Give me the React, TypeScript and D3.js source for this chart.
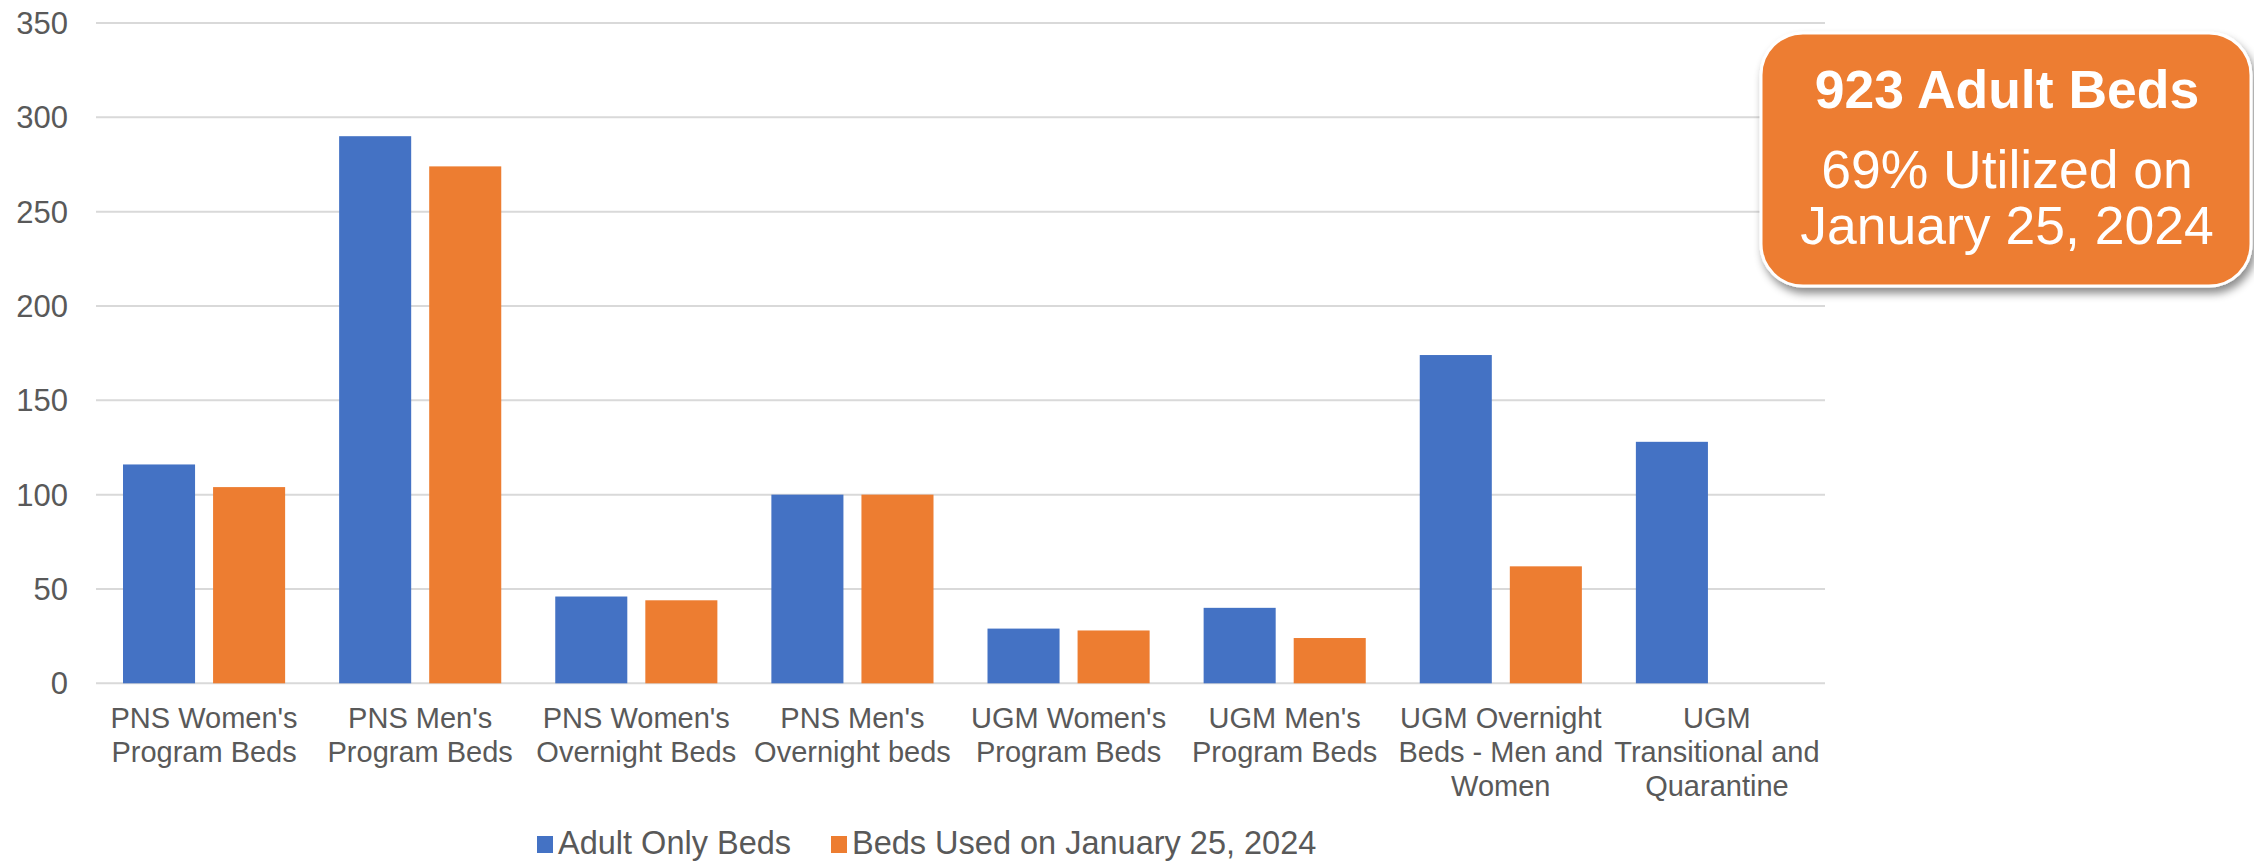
import React from "react";
import * as d3 from "d3";

const categories: string[][] = [
  ["PNS Women's", "Program Beds"],
  ["PNS Men's", "Program Beds"],
  ["PNS Women's", "Overnight Beds"],
  ["PNS Men's", "Overnight beds"],
  ["UGM Women's", "Program Beds"],
  ["UGM Men's", "Program Beds"],
  ["UGM Overnight", "Beds - Men and", "Women"],
  ["UGM", "Transitional and", "Quarantine"],
];
const adultOnlyBeds = [116, 290, 46, 100, 29, 40, 174, 128];
const bedsUsed = [104, 274, 44, 100, 28, 24, 62, 0];
const seriesNames = ["Adult Only Beds", "Beds Used on January 25, 2024"];
const seriesColors = ["#4472C4", "#ED7D31"];
const yTicks = [0, 50, 100, 150, 200, 250, 300, 350];
const calloutTitle = "923 Adult Beds";
const calloutLines = ["69% Utilized on", "January 25, 2024"];

const W = 2254;
const H = 862;
const FONT = "'Liberation Sans', Arial, sans-serif";

export default function App() {
  const x = d3.scaleBand<number>().domain(categories.map((_, i) => i)).range([96, 1825]).padding(0);
  const inner = d3
    .scaleBand<number>()
    .domain([0, 1])
    .range([27, x.bandwidth() - 27])
    .paddingInner(0.2);
  const y = d3.scaleLinear().domain([0, 350]).range([683.3, 23]);
  const series = [adultOnlyBeds, bedsUsed];

  return (
    <svg
      width={W}
      height={H}
      style={{ position: "absolute", left: 0, top: 0, background: "#fff" }}
      fontFamily={FONT}
    >
      <defs>
        <filter id="shadow" x="-10%" y="-10%" width="130%" height="140%">
          <feDropShadow dx="3" dy="6" stdDeviation="4" floodColor="#000" floodOpacity="0.45" />
        </filter>
      </defs>
      {yTicks.map((t) => (
        <g key={t}>
          <line x1={96} x2={1825} y1={y(t)} y2={y(t)} stroke="#D9D9D9" strokeWidth={2} />
          <text x={68} y={y(t) + 11} textAnchor="end" fontSize={31} fill="#595959">
            {t}
          </text>
        </g>
      ))}
      {series.map((vals, s) =>
        vals.map((v, i) =>
          v > 0 ? (
            <rect
              key={`${s}-${i}`}
              x={(x(i) as number) + (inner(s) as number)}
              y={y(v)}
              width={inner.bandwidth()}
              height={y(0) - y(v)}
              fill={seriesColors[s]}
            />
          ) : null
        )
      )}
      {categories.map((lines, i) => (
        <text
          key={i}
          x={(x(i) as number) + x.bandwidth() / 2}
          textAnchor="middle"
          fontSize={29}
          fill="#595959"
        >
          {lines.map((l, k) => (
            <tspan key={k} x={(x(i) as number) + x.bandwidth() / 2} y={728 + k * 34}>
              {l}
            </tspan>
          ))}
        </text>
      ))}
      {/* legend */}
      <rect x={537} y={836} width={16} height={17} fill={seriesColors[0]} />
      <text x={558} y={854} fontSize={32.5} fill="#595959">
        {seriesNames[0]}
      </text>
      <rect x={831} y={836} width={16} height={17} fill={seriesColors[1]} />
      <text x={852} y={854} fontSize={32.5} fill="#595959">
        {seriesNames[1]}
      </text>
      {/* callout */}
      <rect
        x={1761}
        y={33}
        width={490}
        height={253}
        rx={42}
        ry={42}
        fill="#ED7D31"
        stroke="#fff"
        strokeWidth={3}
        filter="url(#shadow)"
      />
      <text x={2007} y={108} textAnchor="middle" fontSize={53.5} fontWeight="bold" fill="#fff">
        {calloutTitle}
      </text>
      {calloutLines.map((l, k) => (
        <text key={k} x={2007} y={188 + k * 56} textAnchor="middle" fontSize={53.5} fill="#fff">
          {l}
        </text>
      ))}
    </svg>
  );
}
